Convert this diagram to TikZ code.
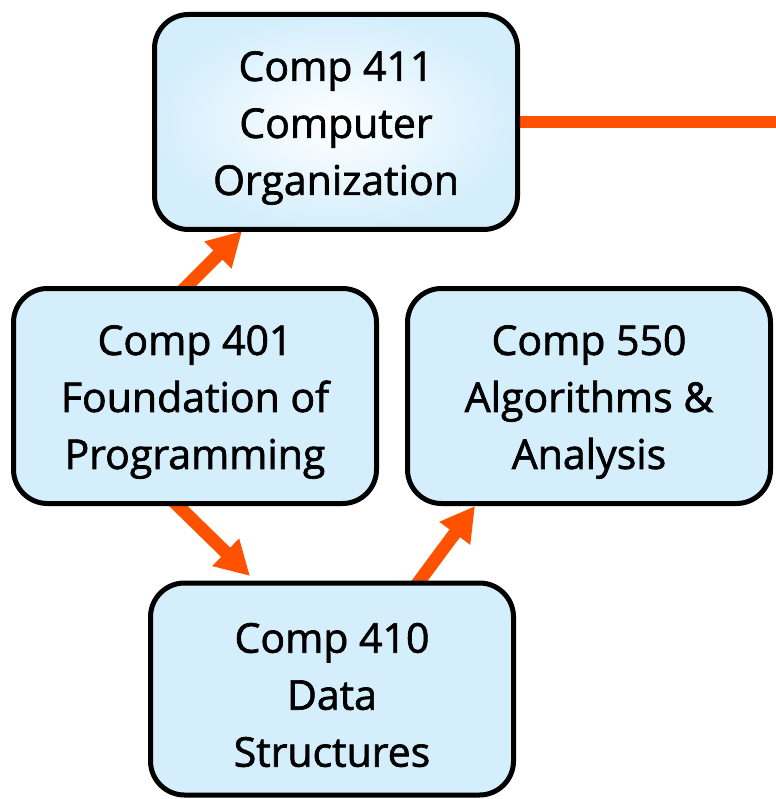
\documentclass[tikz,border=0pt]{standalone}
\usepackage{fontspec}
\newfontfamily\boxfont[FakeBold=1.6]{Open Sans}
\usetikzlibrary{arrows.meta,backgrounds}
\definecolor{boxfill}{RGB}{212,238,252}
\definecolor{flow}{RGB}{255,82,0}
\tikzset{
  course/.style={draw=black, line width=5pt, rounded corners=34pt,
    fill=boxfill, minimum width=363pt, minimum height=215pt,
    inner sep=0pt},
  coursetext/.style={inner sep=0pt, align=center,
    font=\boxfont\fontsize{41}{57}\selectfont},
  prereq/.style={draw=flow, line width=13pt,
    -{Triangle[width=36pt,length=34pt]}},
  link/.style={draw=flow, line width=12pt}
}
\begin{document}
\begin{tikzpicture}[x=1pt,y=-1pt]
  \useasboundingbox (0,0) rectangle (775,799);
  % course boxes
  \node[course, fill=none, inner color=white, outer color=boxfill] (c411) at (336,122) {};
  \node[course] (c401) at (195,396) {};
  \node[course] (c550) at (589,396) {};
  \node[course, minimum height=212pt] (c410) at (332,689) {};
  % course titles
  \node[coursetext] (c411t) at ([yshift=-6pt]c411.center) {Comp 411\\Computer\\Organization};
  \node[coursetext] (c401t) at ([yshift=-6pt]c401.center) {Comp 401\\Foundation of\\Programming};
  \node[coursetext] (c550t) at ([yshift=-6pt]c550.center) {Comp 550\\Algorithms \&\\Analysis};
  \node[coursetext] (c410t) at ([yshift=-6pt]c410.center) {Comp 410\\Data\\Structures};
  % arrow anchors
  \coordinate (t1) at (176,297);
  \coordinate (h1) at (242,231);
  \coordinate (t2) at (165,493);
  \coordinate (h2) at (250,576);
  \coordinate (t3) at (412,591);
  \coordinate (h3) at (475,506);
  \coordinate (rim) at (776,120);
  \begin{pgfonlayer}{background}
    \draw[prereq] (t1) -- (h1);
    \draw[prereq] (t2) -- (h2);
    \draw[prereq] (t3) -- (h3);
    \draw[link] (c411.east) -- (c411.east -| rim);
  \end{pgfonlayer}
\end{tikzpicture}
\end{document}
